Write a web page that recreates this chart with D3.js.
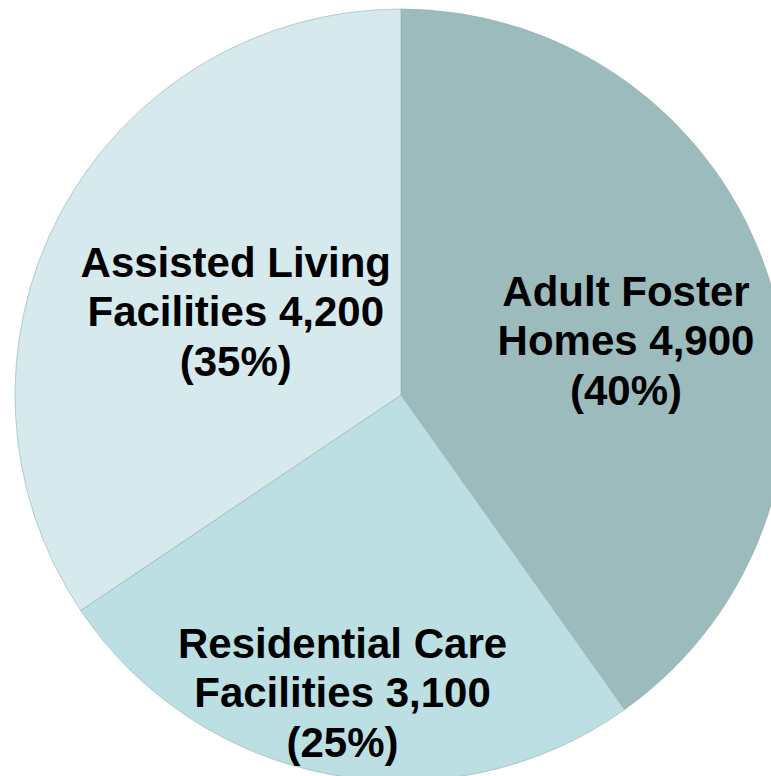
<!DOCTYPE html>
<html><head><meta charset="utf-8">
<script src="https://cdn.jsdelivr.net/npm/d3@7"></script>
<style>html,body{margin:0;padding:0;background:#fff;}svg{display:block;}</style>
</head><body>
<script>
const categories = ["Adult Foster Homes", "Residential Care Facilities", "Assisted Living Facilities"];
const labelLines = [["Adult Foster", "Homes 4,900", "(40%)"], ["Residential Care", "Facilities 3,100", "(25%)"], ["Assisted Living", "Facilities 4,200", "(35%)"]];
const values = [4900, 3100, 4200];
const colors = ["#9CBBBD", "#BBDFE3", "#D6EAEE"];

const W = 771, H = 776;
const cx = 401, cy = 395, R = 386;
const labelRadius = [0.6, 0.785, 0.48];
const labelAngleShift = [0.07, 0.014, -0.02];

const svg = d3.select("body").append("svg").attr("width", W).attr("height", H);
const g = svg.append("g").attr("transform", `translate(${cx},${cy})`);
const pie = d3.pie().sort(null).value(d => d);
const arcs = pie(values);
const arc = d3.arc().innerRadius(0).outerRadius(R);
g.selectAll("path").data(arcs).join("path")
  .attr("d", arc).attr("fill", (d, i) => colors[i])
  .attr("stroke", "#8fb0b2").attr("stroke-width", 0.6);

const lh = 49.5;
arcs.forEach((d, i) => {
  const a = (d.startAngle + d.endAngle) / 2 + labelAngleShift[i];
  const r = R * labelRadius[i];
  const x = r * Math.sin(a), y = -r * Math.cos(a);
  const t = g.append("text").attr("text-anchor", "middle")
    .attr("font-family", "Liberation Sans, Arial, sans-serif")
    .attr("font-weight", "bold").attr("font-size", 42).attr("fill", "#000");
  const lines = labelLines[i];
  lines.forEach((s, j) => {
    t.append("tspan").attr("x", x).attr("y", y + (j - (lines.length - 1) / 2) * lh + 15).text(s);
  });
});
</script>
</body></html>
